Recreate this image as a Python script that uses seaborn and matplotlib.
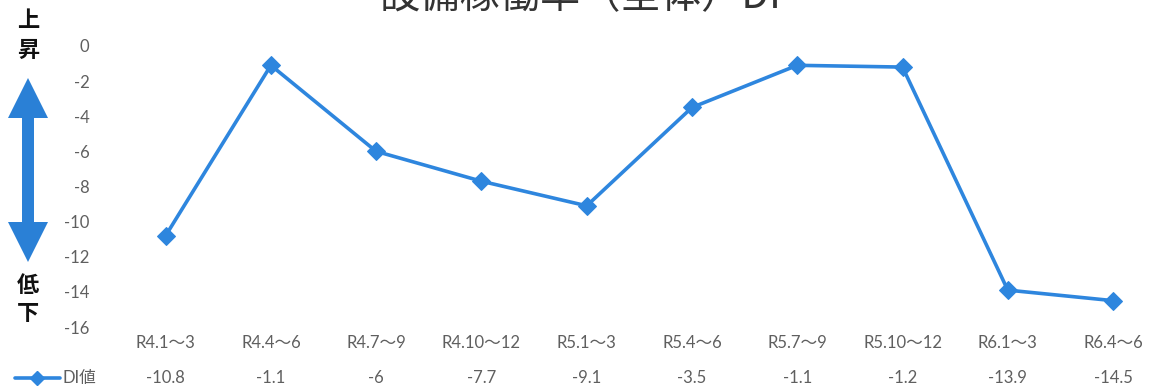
import matplotlib
matplotlib.use("Agg")
import matplotlib.pyplot as plt
import matplotlib.transforms as mtransforms
from matplotlib.patches import Polygon
import seaborn as sns
import pandas as pd

# Quarterly DI values for overall equipment utilization
periods = ["R4.1～3", "R4.4～6", "R4.7～9", "R4.10～12", "R5.1～3",
           "R5.4～6", "R5.7～9", "R5.10～12", "R6.1～3", "R6.4～6"]
di_values = [-10.8, -1.1, -6, -7.7, -9.1, -3.5, -1.1, -1.2, -13.9, -14.5]
value_labels = ["-10.8", "-1.1", "-6", "-7.7", "-9.1", "-3.5", "-1.1", "-1.2", "-13.9", "-14.5"]
y_ticks = [0, -2, -4, -6, -8, -10, -12, -14, -16]
series_name = "DI値"
title_text = "設備稼働率（全体）DI"

sns.set_theme(style="white")
plt.rcParams["font.family"] = ["Lato", "Noto Sans CJK JP", "DejaVu Sans"]

W, H = 1152, 387
fig = plt.figure(figsize=(W / 100, H / 100), dpi=100)

line_color = "#2e86de"
text_gray = "#5f5f5f"

ax = fig.add_axes([113 / W, 60 / H, 1039 / W, 281 / H])
df = pd.DataFrame({"x": range(len(periods)), "y": di_values})
sns.lineplot(data=df, x="x", y="y", ax=ax, color=line_color, linewidth=2.6,
             marker="D", markersize=9, markeredgecolor=line_color, clip_on=False)

ax.set_xlim(-0.5, 9.37)
ax.set_ylim(-16, 0)
ax.set_yticks(y_ticks)
ax.set_yticklabels([str(t) for t in y_ticks], color=text_gray, fontsize=12)
ax.tick_params(axis="y", length=0, pad=17)
ax.set_xticks([])
ax.set_xlabel("")
ax.set_ylabel("")
for s in ax.spines.values():
    s.set_visible(False)

# Data table beneath the plot: period names and values
trans = mtransforms.blended_transform_factory(ax.transData, fig.transFigure)
for i, (p, v) in enumerate(zip(periods, value_labels)):
    ax.text(i, 1 - 343 / H, p, transform=trans, ha="center", va="center",
            fontsize=12, color=text_gray)
    ax.text(i, 1 - 378 / H, v, transform=trans, ha="center", va="center",
            fontsize=12, color=text_gray)

# Legend key in the table row
ly = 1 - 378 / H
fig.add_artist(plt.Line2D([15 / W, 60 / W], [ly, ly], color=line_color, linewidth=2.6,
                          transform=fig.transFigure))
fig.add_artist(plt.Line2D([37 / W], [ly], color=line_color, marker="D", markersize=7,
                          linestyle="none", transform=fig.transFigure))
fig.text(62 / W, ly, series_name, ha="left", va="center", fontsize=12, color=text_gray)

# Double-headed arrow on the left: up = rising, down = falling
cx, top, bot = 28, 78, 262
hw, hl, sw = 20, 40, 6
pts = [(cx, top), (cx + hw, top + hl), (cx + sw, top + hl), (cx + sw, bot - hl),
       (cx + hw, bot - hl), (cx, bot), (cx - hw, bot - hl), (cx - sw, bot - hl),
       (cx - sw, top + hl), (cx - hw, top + hl)]
pts = [(x / W, 1 - y / H) for x, y in pts]
fig.add_artist(Polygon(pts, closed=True, facecolor="#2a80d6", edgecolor="none",
                       transform=fig.transFigure))

for ch, y in [("上", 21), ("昇", 50), ("低", 285), ("下", 314)]:
    fig.text(cx / W, 1 - y / H, ch, ha="center", va="center", fontsize=16,
             fontweight="bold", color="#111111", family=["Noto Sans CJK JP"])

# Title sits mostly above the canvas edge
fig.text(580 / W, 1 - 8 / H, title_text, ha="center", va="baseline", fontsize=29,
         color="#333333", family=["Noto Sans CJK JP", "DejaVu Sans"])

fig.savefig("out.png", dpi=100, facecolor="white")
